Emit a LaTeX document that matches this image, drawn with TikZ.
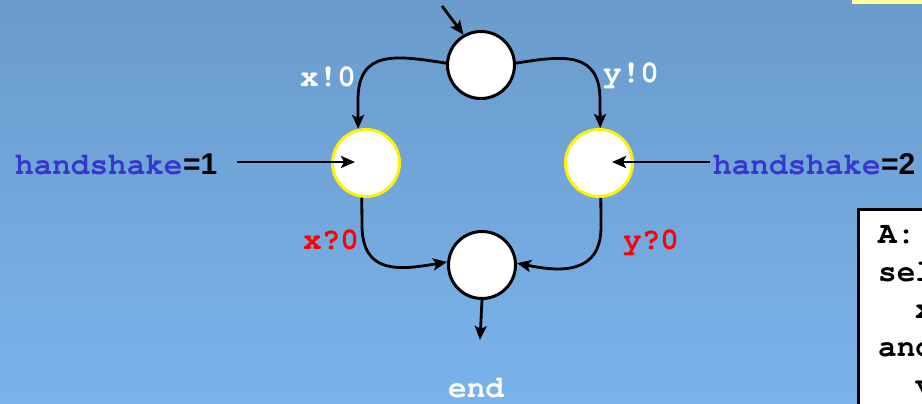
\documentclass[tikz,border=0pt]{standalone}
\usepackage{fontspec}
\setmonofont{TeX Gyre Cursor}
\newfontfamily\sansb{Liberation Sans}
\usetikzlibrary{arrows.meta}
\definecolor{bgtop}{RGB}{106,155,204}
\definecolor{bgbot}{RGB}{122,179,235}
\definecolor{hsblue}{RGB}{55,55,205}
\definecolor{barylw}{RGB}{255,255,153}
\definecolor{lblred}{RGB}{255,0,0}
\begin{document}
\begin{tikzpicture}[x=1pt,y=-1pt,
  state/.style={circle, draw=black, fill=white, line width=3pt, minimum size=67pt, inner sep=0pt},
  hlstate/.style={state, draw=yellow},
  conn/.style={line width=2.8pt, -{Stealth[length=14pt,width=12pt,inset=3pt]}},
  lbl/.style={font=\ttfamily\bfseries\fontsize{31}{36}\selectfont, inner sep=0pt, anchor=base west},
  sanslbl/.style={font=\sansb\bfseries\fontsize{30}{36}\selectfont, inner sep=0pt, anchor=base west}]
\useasboundingbox (0,0) rectangle (922,404);
\clip (0,0) rectangle (922,404);
\shade[top color=bgtop,bottom color=bgbot] (0,0) rectangle (922,404);
\fill[barylw] (852,0) rectangle (922,4);
% code box
\draw[line width=3pt, fill=white] (858,209) rectangle (940,420);
\node[lbl] (ba) at (878,243) {A:};
\node[lbl] (bb) at (878,281) {sel};
\node[lbl] (bc) at (915,318) {x};
\node[lbl] (bd) at (878,356) {and};
\node[lbl] (be) at (915,394) {v};
% states
\node[state] (top) at (481,65) {};
\node[hlstate] (lft) at (366,163) {};
\node[hlstate] (rgt) at (599,163) {};
\node[state] (bot) at (482,265) {};
\coordinate (init) at (442,6);
\coordinate (fin) at (480,340);
\coordinate (h1s) at (237,162);
\coordinate (h1e) at (355,162);
\coordinate (h2s) at (710,162);
\coordinate (h2e) at (612,162);
% connectors
\draw[conn] (init) -- (top.120);
\draw[conn] (top.177) .. controls (395,55) and (358,50) .. (358,100) -- (lft.103);
\draw[conn] (top.3) .. controls (565,55) and (600,52) .. (600,100) -- (rgt.88);
\draw[conn] (lft.263) -- (362,225) .. controls (362,275) and (400,270) .. (bot.175);
\draw[conn] (rgt.273) -- (601,225) .. controls (602,275) and (560,272) .. (bot.3);
\draw[conn] (bot.south) -- (fin);
% handshake labels
\node[lbl, text=hsblue] (h1) at (15,175) {handshake};
\node[sanslbl] (h1v) at (h1.base east) {=1};
\node[lbl, text=hsblue] (h2) at (713,175) {handshake};
\node[sanslbl] (h2v) at (h2.base east) {=2};
\draw[conn] (h1s) -- (h1e);
\draw[conn] (h2s) -- (h2e);
% transition labels
\node[lbl, text=white] (l1) at (300,87) {x!0};
\node[lbl, text=white] (l2) at (603,83) {y!0};
\node[lbl, text=lblred] (l3) at (303,249) {x?0};
\node[lbl, text=lblred] (l4) at (623,249) {y?0};
\node[lbl, text=white] (l5) at (448,397) {end};
\end{tikzpicture}
\end{document}
